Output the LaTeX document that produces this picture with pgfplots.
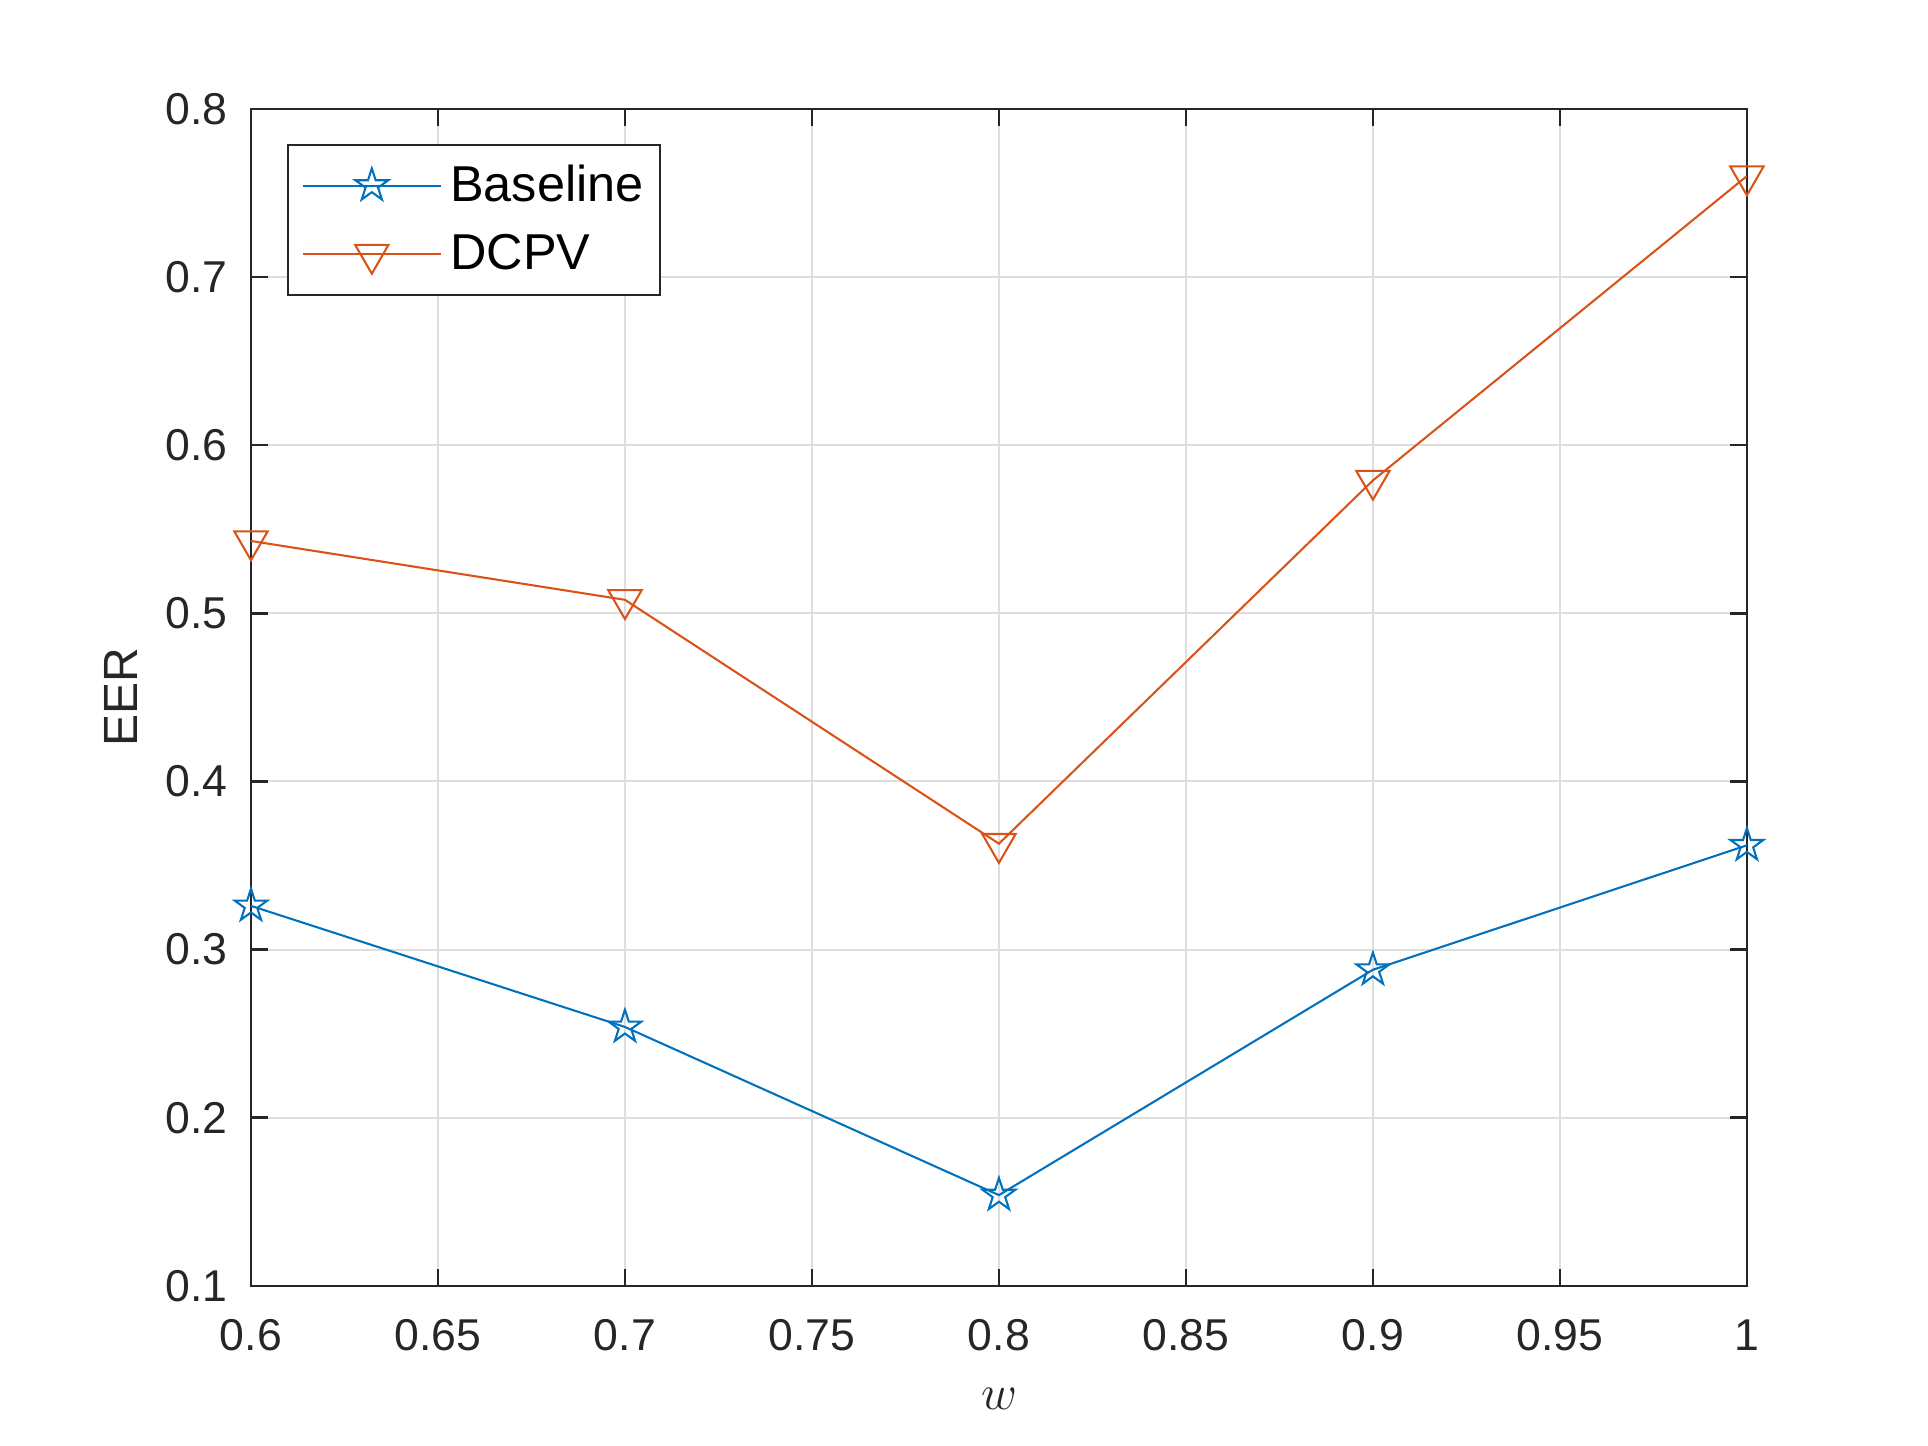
\documentclass[border=0pt]{standalone}
\usepackage{pgfplots}
\pgfplotsset{compat=1.18}
\usepackage{fontspec}
\setmainfont{Liberation Sans}
\definecolor{mblue}{rgb}{0,0.447,0.741}
\definecolor{morange}{rgb}{0.85,0.325,0.098}
\definecolor{axgray}{rgb}{0.15,0.15,0.15}
\definecolor{gridgray}{rgb}{0.87,0.87,0.87}
\pgfdeclareplotmark{pentagram}{%
  \pgfpathmoveto{\pgfpointpolar{90}{\pgfplotmarksize}}%
  \pgfpathlineto{\pgfpointpolar{126}{0.382\pgfplotmarksize}}%
  \pgfpathlineto{\pgfpointpolar{162}{\pgfplotmarksize}}%
  \pgfpathlineto{\pgfpointpolar{198}{0.382\pgfplotmarksize}}%
  \pgfpathlineto{\pgfpointpolar{234}{\pgfplotmarksize}}%
  \pgfpathlineto{\pgfpointpolar{270}{0.382\pgfplotmarksize}}%
  \pgfpathlineto{\pgfpointpolar{306}{\pgfplotmarksize}}%
  \pgfpathlineto{\pgfpointpolar{342}{0.382\pgfplotmarksize}}%
  \pgfpathlineto{\pgfpointpolar{18}{\pgfplotmarksize}}%
  \pgfpathlineto{\pgfpointpolar{54}{0.382\pgfplotmarksize}}%
  \pgfpathclose\pgfusepathqstroke}
\pgfdeclareplotmark{dtriangle}{%
  \pgfpathmoveto{\pgfpointpolar{-90}{\pgfplotmarksize}}%
  \pgfpathlineto{\pgfpointpolar{30}{\pgfplotmarksize}}%
  \pgfpathlineto{\pgfpointpolar{150}{\pgfplotmarksize}}%
  \pgfpathclose\pgfusepathqstroke}
\begin{document}
\begin{tikzpicture}
\path[use as bounding box] (-72.9bp,-46.5bp) rectangle (487.1bp,373.5bp);
\begin{axis}[
  at={(0,0)}, anchor=south west,
  scale only axis, width=434.5bp, height=341.9bp,
  xmin=0.6, xmax=1, ymin=0.1, ymax=0.8,
  xtick={0.6,0.65,0.7,0.75,0.8,0.85,0.9,0.95,1},
  ytick={0.1,0.2,0.3,0.4,0.5,0.6,0.7,0.8},
  /pgf/number format/assume math mode=true,
  tick align=inside, tickpos=both,
  major tick length=5bp,
  axis line style={draw=axgray, line width=0.75bp},
  every tick/.style={draw=axgray, line width=0.75bp},
  grid=major,
  major grid style={draw=gridgray, line width=0.6bp},
  tick label style={font=\fontsize{13}{13}\selectfont, text=axgray},
  xticklabel style={inner sep=0pt, anchor=north, yshift=-9.6bp},
  yticklabel style={inner sep=0pt, anchor=east, xshift=-6.7bp},
  xlabel={$w$},
  xlabel style={at={(axis description cs:0.5,0)}, anchor=base, yshift=-36bp, inner sep=0pt, font=\fontsize{15}{15}\selectfont, text=axgray},
  ylabel={EER},
  ylabel style={at={(axis description cs:-0.087,0.5)}, anchor=center, inner sep=0pt, font=\fontsize{14}{14}\selectfont, text=axgray},
  legend style={at={(axis description cs:0,1)}, anchor=north west, xshift=10.5bp, yshift=-10.2bp,
    draw=axgray, line width=0.6bp, inner xsep=4bp, inner ysep=5.3bp,
    font=\fontsize{14.7}{14.7}\selectfont,
    nodes={inner sep=0pt, text height=10bp, text depth=3bp},
    row sep=7bp,
    /tikz/every odd column/.append style={column sep=2.5bp}},
  legend cell align=left,
  legend image code/.code={%
    \draw[mark repeat=2, mark phase=2] plot coordinates {(0bp,0bp) (20bp,0bp) (40bp,0bp)};},
]
\addplot[color=mblue, line width=0.6bp, mark=pentagram, mark size=5bp, mark options={solid}]
  coordinates {(0.6,0.326) (0.7,0.254) (0.8,0.154) (0.9,0.288) (1.0,0.362)};
\addlegendentry{\raisebox{-1bp}{Baseline}\hspace*{0.6bp}}
\addplot[color=morange, line width=0.6bp, mark=dtriangle, mark size=5.6bp, mark options={solid}]
  coordinates {(0.6,0.543) (0.7,0.508) (0.8,0.363) (0.9,0.579) (1.0,0.760)};
\addlegendentry{\raisebox{-1bp}{DCPV}}
\end{axis}
\end{tikzpicture}
\end{document}
